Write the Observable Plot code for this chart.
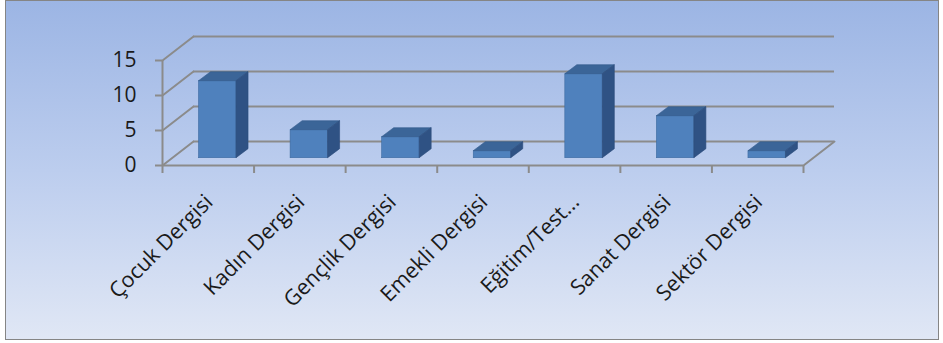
<!DOCTYPE html>
<html><head><meta charset="utf-8">
<script src="https://cdn.jsdelivr.net/npm/d3@7"></script>
<script src="https://cdn.jsdelivr.net/npm/@observablehq/plot@0.6"></script>
<style>
html,body{margin:0;padding:0;background:#fff;width:943px;height:343px;overflow:hidden;}
#frame{position:absolute;left:5px;top:0px;width:932px;height:338px;border:1.5px solid #858585;
  background:linear-gradient(to bottom,#9cb5e4 0%,#bccdee 50%,#e0e7f5 100%);}
#chart{position:absolute;left:0;top:0;}
</style></head><body>
<div id="frame"></div><div id="chart"></div>
<script>
const categories = ["Çocuk Dergisi","Kadın Dergisi","Gençlik Dergisi","Emekli Dergisi","Eğitim/Test...","Sanat Dergisi","Sektör Dergisi"];
const values = [11,4,3,1,12,6,1];
const yTicks = [0,5,10,15];

const rows = categories.map((c, i) => ({cat: c, value: values[i], pos: i + 0.5}));

const gridColor = "#8b8b8b";
const wall = {dx: 31, dy: -24};
const lineShape = {draw(ctx, l) { ctx.moveTo(0, 0); ctx.lineTo(0, -l); }};
const wallLen = Math.hypot(wall.dx, wall.dy);
const wallAngle = Math.atan2(wall.dx, -wall.dy) * 180 / Math.PI;

function bars3d(data, opts) {
  const front = {dx: 9.5, dy: -7.3}, depth = {dx: 12, dy: -9}, w = 37.5;
  return Plot.dot(data, {...opts, render(index, scales, vals) {
    const g = d3.create("svg:g");
    const y0 = scales.y(0) + front.dy;
    for (const i of index) {
      const cx = vals.x[i] + front.dx, yt = vals.y[i] + front.dy;
      const xl = cx - w / 2, xr = cx + w / 2;
      g.append("rect").attr("x", xl).attr("y", yt).attr("width", w).attr("height", y0 - yt)
        .attr("fill", "#4f81bd").attr("stroke", "#3d6aa0").attr("stroke-width", 0.6);
      g.append("path").attr("d", `M${xl},${yt}L${xr},${yt}L${xr+depth.dx},${yt+depth.dy}L${xl+depth.dx},${yt+depth.dy}Z`)
        .attr("fill", "#3b6598").attr("stroke", "#335b8c").attr("stroke-width", 0.6);
      g.append("path").attr("d", `M${xr},${yt}L${xr},${y0}L${xr+depth.dx},${y0+depth.dy}L${xr+depth.dx},${yt+depth.dy}Z`)
        .attr("fill", "#2f5284").attr("stroke", "#2b4c7a").attr("stroke-width", 0.6);
    }
    return g.node();
  }});
}

const chart = Plot.plot({
  width: 943, height: 343,
  marginLeft: 162, marginRight: 140, marginTop: 60, marginBottom: 178,
  style: {background: "transparent", fontFamily: "'Open Sans', sans-serif", color: "#1a1a1a", overflow: "visible"},
  x: {domain: [0, 7]},
  y: {domain: [0, 15]},
  marks: [
    Plot.ruleY(yTicks, {dx: wall.dx, dy: wall.dy, stroke: gridColor, strokeWidth: 2}),
    Plot.vector(yTicks, {x: 0, y: d => d, length: wallLen, rotate: wallAngle, anchor: "start", shape: lineShape, stroke: gridColor, strokeWidth: 2}),
    Plot.vector([0], {x: 7, y: d => d, length: wallLen, rotate: wallAngle, anchor: "start", shape: lineShape, stroke: gridColor, strokeWidth: 2}),
    Plot.ruleY([0], {stroke: gridColor, strokeWidth: 2}),
    Plot.ruleX([0], {y1: 0, y2: 15, stroke: gridColor, strokeWidth: 2}),
    Plot.axisY({ticks: yTicks, tickSize: 7, tickPadding: 19, fontSize: 21, stroke: gridColor, strokeWidth: 2, label: null}),
    Plot.axisX({ticks: d3.range(8), tickSize: 8, tickFormat: () => "", stroke: gridColor, strokeWidth: 2, label: null}),
    Plot.axisX({ticks: rows.map(d => d.pos), tickFormat: d => categories[Math.floor(d)], tickSize: 0, tickPadding: 33, tickRotate: -45, dx: 1, fontSize: 21.5, label: null}),
    bars3d(rows, {x: "pos", y: "value"})
  ]
});
document.getElementById("chart").appendChild(chart);
</script>
</body></html>
